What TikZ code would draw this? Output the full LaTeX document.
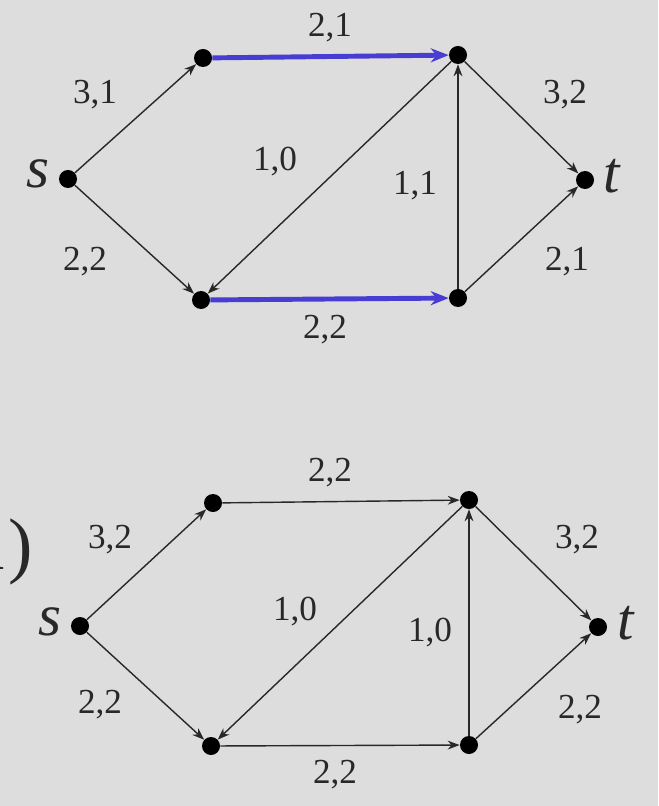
\documentclass[tikz,border=0pt]{standalone}
\usepackage{fontspec}
\setmainfont{Liberation Serif}
\usetikzlibrary{arrows.meta}
\definecolor{bg}{RGB}{221,221,221}
\definecolor{flowblue}{RGB}{72,60,210}
\definecolor{ink}{RGB}{40,40,40}
\tikzset{
  vert/.style={circle, fill=black, inner sep=0pt, minimum size=0.45cm},
  edge/.style={-{Stealth[length=0.3cm,width=0.22cm]}, line width=1pt, ink},
  aug/.style={-{Stealth[length=0.45cm,width=0.35cm]}, line width=3.5pt, flowblue},
  lab/.style={font=\rmfamily\fontsize{25}{25}\selectfont, text=ink, inner sep=0pt},
  term/.style={font=\rmfamily\fontsize{42}{42}\selectfont\itshape, text=ink, inner sep=0pt}
}
\begin{document}
\begin{tikzpicture}[x=0.025cm, y=-0.025cm]
\fill[bg] (0,0) rectangle (658,806);
\clip (0,0) rectangle (658,806);

% first network
\node[vert] (s1) at (68,179) {};
\node[vert] (a1) at (203,58) {};
\node[vert] (b1) at (458,55) {};
\node[vert] (t1) at (585,180) {};
\node[vert] (c1) at (201,300) {};
\node[vert] (d1) at (458,298) {};
\node[term] (s1l) at (38,174) {s};
\node[term] (t1l) at (612,176) {t};

\draw[edge] (s1) -- (a1);
\draw[edge] (s1) -- (c1);
\draw[aug] (a1) -- (b1);
\draw[edge] (b1) -- (c1);
\draw[edge] (d1) -- (b1);
\draw[edge] (b1) -- (t1);
\draw[edge] (d1) -- (t1);
\draw[aug] (c1) -- (d1);

\node[lab] (l1) at (95,95) {3,1};
\node[lab] (l2) at (330,28) {2,1};
\node[lab] (l3) at (565,95) {3,2};
\node[lab] (l4) at (275,162) {1,0};
\node[lab] (l5) at (415,186) {1,1};
\node[lab] (l6) at (85,262) {2,2};
\node[lab] (l7) at (325,330) {2,2};
\node[lab] (l8) at (567,262) {2,1};

% second network
\node[font=\rmfamily\fontsize{52}{52}\selectfont, text=ink, inner sep=0pt, anchor=east] (cap) at (33,552) {1)};
\node[vert] (s2) at (80,626) {};
\node[vert] (a2) at (213,503) {};
\node[vert] (b2) at (469,500) {};
\node[vert] (t2) at (598,627) {};
\node[vert] (c2) at (211,746) {};
\node[vert] (d2) at (469,745) {};
\node[term] (s2l) at (50,622) {s};
\node[term] (t2l) at (626,623) {t};

\draw[edge] (s2) -- (a2);
\draw[edge] (s2) -- (c2);
\draw[edge] (a2) -- (b2);
\draw[edge] (b2) -- (c2);
\draw[edge] (d2) -- (b2);
\draw[edge] (b2) -- (t2);
\draw[edge] (d2) -- (t2);
\draw[edge] (c2) -- (d2);

\node[lab] (m1) at (110,540) {3,2};
\node[lab] (m2) at (330,473) {2,2};
\node[lab] (m3) at (577,540) {3,2};
\node[lab] (m4) at (295,612) {1,0};
\node[lab] (m5) at (430,633) {1,0};
\node[lab] (m6) at (100,705) {2,2};
\node[lab] (m7) at (335,775) {2,2};
\node[lab] (m8) at (580,710) {2,2};
\end{tikzpicture}
\end{document}
